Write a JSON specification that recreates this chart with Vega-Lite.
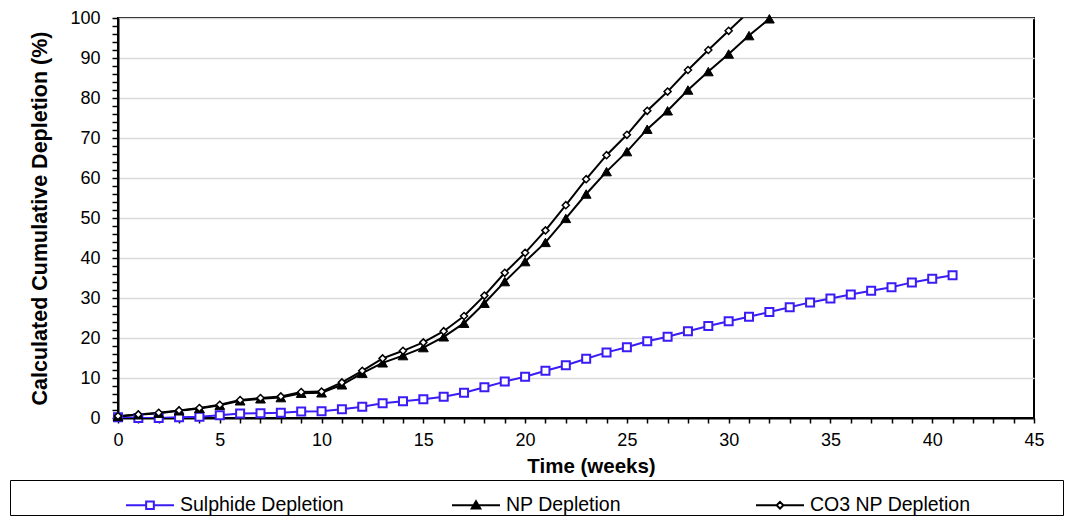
{
  "$schema": "https://vega.github.io/schema/vega-lite/v6.json",
  "width": 916,
  "height": 400,
  "autosize": "none",
  "padding": {"left": 118, "top": 18, "right": 31, "bottom": 107},
  "background": "white",
  "config": {
    "view": {"stroke": "black", "strokeWidth": 2},
    "font": "Liberation Sans",
    "axis": {
      "labelFont": "Liberation Sans",
      "titleFont": "Liberation Sans",
      "labelColor": "black",
      "titleColor": "black",
      "domainColor": "black",
      "domainWidth": 2,
      "tickColor": "black",
      "tickWidth": 1.5,
      "labelFontSize": 18,
      "titleFontSize": 20.5,
      "titleFontWeight": "bold"
    }
  },
  "data": {
    "values": [
      {"series": "Sulphide Depletion", "week": 0, "value": 0.2},
      {"series": "Sulphide Depletion", "week": 1, "value": 0.0},
      {"series": "Sulphide Depletion", "week": 2, "value": 0.0},
      {"series": "Sulphide Depletion", "week": 3, "value": 0.2},
      {"series": "Sulphide Depletion", "week": 4, "value": 0.3},
      {"series": "Sulphide Depletion", "week": 5, "value": 0.7},
      {"series": "Sulphide Depletion", "week": 6, "value": 1.1},
      {"series": "Sulphide Depletion", "week": 7, "value": 1.2},
      {"series": "Sulphide Depletion", "week": 8, "value": 1.3},
      {"series": "Sulphide Depletion", "week": 9, "value": 1.6},
      {"series": "Sulphide Depletion", "week": 10, "value": 1.7},
      {"series": "Sulphide Depletion", "week": 11, "value": 2.2},
      {"series": "Sulphide Depletion", "week": 12, "value": 2.8},
      {"series": "Sulphide Depletion", "week": 13, "value": 3.7},
      {"series": "Sulphide Depletion", "week": 14, "value": 4.2},
      {"series": "Sulphide Depletion", "week": 15, "value": 4.7},
      {"series": "Sulphide Depletion", "week": 16, "value": 5.3},
      {"series": "Sulphide Depletion", "week": 17, "value": 6.3},
      {"series": "Sulphide Depletion", "week": 18, "value": 7.7},
      {"series": "Sulphide Depletion", "week": 19, "value": 9.1},
      {"series": "Sulphide Depletion", "week": 20, "value": 10.3},
      {"series": "Sulphide Depletion", "week": 21, "value": 11.8},
      {"series": "Sulphide Depletion", "week": 22, "value": 13.2},
      {"series": "Sulphide Depletion", "week": 23, "value": 14.8},
      {"series": "Sulphide Depletion", "week": 24, "value": 16.4},
      {"series": "Sulphide Depletion", "week": 25, "value": 17.7},
      {"series": "Sulphide Depletion", "week": 26, "value": 19.2},
      {"series": "Sulphide Depletion", "week": 27, "value": 20.3},
      {"series": "Sulphide Depletion", "week": 28, "value": 21.7},
      {"series": "Sulphide Depletion", "week": 29, "value": 23.0},
      {"series": "Sulphide Depletion", "week": 30, "value": 24.2},
      {"series": "Sulphide Depletion", "week": 31, "value": 25.3},
      {"series": "Sulphide Depletion", "week": 32, "value": 26.5},
      {"series": "Sulphide Depletion", "week": 33, "value": 27.7},
      {"series": "Sulphide Depletion", "week": 34, "value": 28.9},
      {"series": "Sulphide Depletion", "week": 35, "value": 29.9},
      {"series": "Sulphide Depletion", "week": 36, "value": 30.9},
      {"series": "Sulphide Depletion", "week": 37, "value": 31.8},
      {"series": "Sulphide Depletion", "week": 38, "value": 32.7},
      {"series": "Sulphide Depletion", "week": 39, "value": 33.9},
      {"series": "Sulphide Depletion", "week": 40, "value": 34.8},
      {"series": "Sulphide Depletion", "week": 41, "value": 35.7},
      {"series": "NP Depletion", "week": 0, "value": 0.4},
      {"series": "NP Depletion", "week": 1, "value": 0.8},
      {"series": "NP Depletion", "week": 2, "value": 1.2},
      {"series": "NP Depletion", "week": 3, "value": 1.8},
      {"series": "NP Depletion", "week": 4, "value": 2.4},
      {"series": "NP Depletion", "week": 5, "value": 3.2},
      {"series": "NP Depletion", "week": 6, "value": 4.3},
      {"series": "NP Depletion", "week": 7, "value": 4.8},
      {"series": "NP Depletion", "week": 8, "value": 5.1},
      {"series": "NP Depletion", "week": 9, "value": 6.2},
      {"series": "NP Depletion", "week": 10, "value": 6.3},
      {"series": "NP Depletion", "week": 11, "value": 8.3},
      {"series": "NP Depletion", "week": 12, "value": 11.2},
      {"series": "NP Depletion", "week": 13, "value": 13.8},
      {"series": "NP Depletion", "week": 14, "value": 15.6},
      {"series": "NP Depletion", "week": 15, "value": 17.6},
      {"series": "NP Depletion", "week": 16, "value": 20.3},
      {"series": "NP Depletion", "week": 17, "value": 23.7},
      {"series": "NP Depletion", "week": 18, "value": 28.7},
      {"series": "NP Depletion", "week": 19, "value": 34.1},
      {"series": "NP Depletion", "week": 20, "value": 39.1},
      {"series": "NP Depletion", "week": 21, "value": 43.9},
      {"series": "NP Depletion", "week": 22, "value": 49.9},
      {"series": "NP Depletion", "week": 23, "value": 56.0},
      {"series": "NP Depletion", "week": 24, "value": 61.6},
      {"series": "NP Depletion", "week": 25, "value": 66.6},
      {"series": "NP Depletion", "week": 26, "value": 72.2},
      {"series": "NP Depletion", "week": 27, "value": 76.8},
      {"series": "NP Depletion", "week": 28, "value": 82.0},
      {"series": "NP Depletion", "week": 29, "value": 86.6},
      {"series": "NP Depletion", "week": 30, "value": 91.0},
      {"series": "NP Depletion", "week": 31, "value": 95.6},
      {"series": "NP Depletion", "week": 32, "value": 99.8},
      {"series": "CO3 NP Depletion", "week": 0, "value": 0.5},
      {"series": "CO3 NP Depletion", "week": 1, "value": 0.9},
      {"series": "CO3 NP Depletion", "week": 2, "value": 1.3},
      {"series": "CO3 NP Depletion", "week": 3, "value": 1.9},
      {"series": "CO3 NP Depletion", "week": 4, "value": 2.5},
      {"series": "CO3 NP Depletion", "week": 5, "value": 3.3},
      {"series": "CO3 NP Depletion", "week": 6, "value": 4.5},
      {"series": "CO3 NP Depletion", "week": 7, "value": 5.0},
      {"series": "CO3 NP Depletion", "week": 8, "value": 5.4},
      {"series": "CO3 NP Depletion", "week": 9, "value": 6.5},
      {"series": "CO3 NP Depletion", "week": 10, "value": 6.6},
      {"series": "CO3 NP Depletion", "week": 11, "value": 8.9},
      {"series": "CO3 NP Depletion", "week": 12, "value": 11.8},
      {"series": "CO3 NP Depletion", "week": 13, "value": 14.9},
      {"series": "CO3 NP Depletion", "week": 14, "value": 16.8},
      {"series": "CO3 NP Depletion", "week": 15, "value": 18.9},
      {"series": "CO3 NP Depletion", "week": 16, "value": 21.7},
      {"series": "CO3 NP Depletion", "week": 17, "value": 25.5},
      {"series": "CO3 NP Depletion", "week": 18, "value": 30.6},
      {"series": "CO3 NP Depletion", "week": 19, "value": 36.3},
      {"series": "CO3 NP Depletion", "week": 20, "value": 41.3},
      {"series": "CO3 NP Depletion", "week": 21, "value": 46.9},
      {"series": "CO3 NP Depletion", "week": 22, "value": 53.2},
      {"series": "CO3 NP Depletion", "week": 23, "value": 59.7},
      {"series": "CO3 NP Depletion", "week": 24, "value": 65.7},
      {"series": "CO3 NP Depletion", "week": 25, "value": 70.8},
      {"series": "CO3 NP Depletion", "week": 26, "value": 76.8},
      {"series": "CO3 NP Depletion", "week": 27, "value": 81.6},
      {"series": "CO3 NP Depletion", "week": 28, "value": 87.0},
      {"series": "CO3 NP Depletion", "week": 29, "value": 92.0},
      {"series": "CO3 NP Depletion", "week": 30, "value": 96.8},
      {"series": "CO3 NP Depletion", "week": 31, "value": 101.6}
    ]
  },
  "encoding": {
    "x": {
      "field": "week",
      "type": "quantitative",
      "scale": {"domain": [0, 45], "nice": false, "zero": false},
      "axis": {
        "title": "Time (weeks)",
        "values": [0,1,2,3,4,5,6,7,8,9,10,11,12,13,14,15,16,17,18,19,20,21,22,23,24,25,26,27,28,29,30,31,32,33,34,35,36,37,38,39,40,41,42,43,44,45],
        "labelExpr": "datum.value % 5 === 0 ? datum.label : ''",
        "grid": false,
        "tickSize": 5,
        "labelPadding": 8,
        "labelFlush": false,
        "labelOverlap": false,
        "titleX": 473,
        "titleY": 48,
        "titleAlign": "center",
        "titleBaseline": "middle"
      }
    },
    "y": {
      "field": "value",
      "type": "quantitative",
      "scale": {"domain": [0, 100], "nice": false},
      "axis": {
        "title": "Calculated Cumulative Depletion (%)",
        "values": [0,2,4,6,8,10,12,14,16,18,20,22,24,26,28,30,32,34,36,38,40,42,44,46,48,50,52,54,56,58,60,62,64,66,68,70,72,74,76,78,80,82,84,86,88,90,92,94,96,98,100],
        "labelExpr": "datum.value % 10 === 0 ? datum.label : ''",
        "grid": true,
        "gridColor": "#d9d9d9",
        "gridWidth": 1.5,
        "gridOpacity": {"condition": {"test": "datum.value % 10 === 0 && datum.value > 0", "value": 1}, "value": 0},
        "tickSize": 6,
        "labelPadding": 12,
        "labelFlush": false,
        "labelOverlap": false,
        "titleFontSize": 21.5,
        "titleX": -78,
        "titleY": 200,
        "titleBaseline": "middle",
        "titleAlign": "center"
      }
    },
    "stroke": {
      "field": "series",
      "type": "nominal",
      "scale": {
        "domain": ["Sulphide Depletion", "NP Depletion", "CO3 NP Depletion"],
        "range": ["#3a1cf5", "#000000", "#000000"]
      },
      "legend": {
        "orient": "none",
        "legendX": -108,
        "legendY": 462,
        "direction": "horizontal",
        "title": "\u00a0",
        "titleOrient": "left",
        "titlePadding": 115,
        "titleFontSize": 18,
        "titleFont": "Liberation Sans",
        "padding": 0,
        "strokeColor": "black",
        "fillColor": "white",
        "symbolSize": 2304,
        "symbolStrokeWidth": 2,
        "symbolOpacity": 1,
        "labelFontSize": 19.5,
        "labelFont": "Liberation Sans",
        "labelColor": "black",
        "labelOffset": 5,
        "labelLimit": 800,
        "columnPadding": 104,
        "labelExpr": "datum.value === 'CO3 NP Depletion' ? datum.label + '\u00a0\u00a0\u00a0\u00a0\u00a0\u00a0\u00a0\u00a0\u00a0\u00a0\u00a0\u00a0\u00a0\u00a0\u00a0\u00a0\u00a0\u200b' : (datum.value === 'NP Depletion' ? datum.label + '\u00a0\u00a0\u00a0\u00a0\u00a0\u200b' : datum.label)"
      }
    }
  },
  "layer": [
    {
      "mark": {"type": "line", "strokeWidth": 2, "clip": true}
    },
    {
      "transform": [{"filter": "datum.series === 'Sulphide Depletion'"}],
      "mark": {"type": "point", "shape": "square", "size": 64, "filled": true, "fill": "#ffffff", "strokeWidth": 2, "opacity": 1}
    },
    {
      "transform": [{"filter": "datum.series === 'NP Depletion'"}],
      "mark": {"type": "point", "shape": "triangle-up", "size": 95, "filled": true, "fill": "#000000", "strokeWidth": 1, "opacity": 1}
    },
    {
      "transform": [{"filter": "datum.series === 'CO3 NP Depletion' && datum.value <= 100"}],
      "mark": {"type": "point", "shape": "diamond", "size": 50, "filled": true, "fill": "#ffffff", "strokeWidth": 1.5, "opacity": 1}
    },
    {
      "transform": [{"filter": "false"}],
      "mark": {"type": "point", "filled": true},
      "encoding": {
        "fill": {
          "field": "series",
          "type": "nominal",
          "scale": {
            "domain": ["Sulphide Depletion", "NP Depletion", "CO3 NP Depletion"],
            "range": ["#ffffff", "#000000", "#ffffff"]
          }
        },
        "shape": {
          "field": "series",
          "type": "nominal",
          "scale": {
            "domain": ["Sulphide Depletion", "NP Depletion", "CO3 NP Depletion"],
            "range": [
              "M-1,0H-0.16M0.16,0H1M-0.16,-0.16H0.16V0.16H-0.16Z",
              "M-1,0H1M0,-0.17L0.18,0.14H-0.18Z",
              "M-1,0H-0.14M0.14,0H1M0,-0.14L0.14,0L0,0.14L-0.14,0Z"
            ]
          }
        }
      }
    }
  ]
}
